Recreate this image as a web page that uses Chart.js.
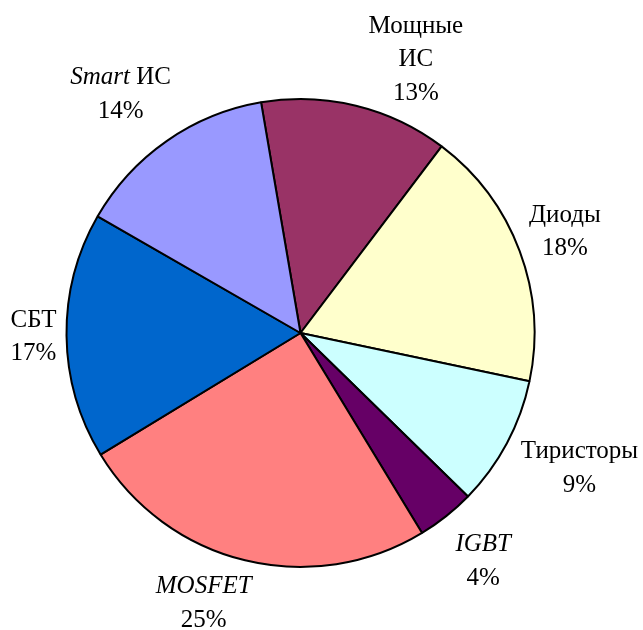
<!DOCTYPE html>
<html><head><meta charset="utf-8">
<script src="https://cdn.jsdelivr.net/npm/chart.js@4.4.1/dist/chart.umd.min.js"></script>
<style>html,body{margin:0;padding:0;background:#fff}#wrap{width:643px;height:630px;position:relative}</style>
</head><body><div id="wrap"><canvas id="c"></canvas></div>
<script>
const categories = ['Мощные ИС','Диоды','Тиристоры','IGBT','MOSFET','СБТ','Smart ИС'];
const values = [13,18,9,4,25,17,14];
const labelLines = [['Мощные','ИС'],['Диоды'],['Тиристоры'],['IGBT'],['MOSFET'],['СБТ'],['Smart ИС']];
const italicWords = ['Smart','IGBT','MOSFET'];
const colors = ['#993366','#FFFFCC','#CCFFFF','#660066','#FF8080','#0066CC','#9999FF'];
const labelNudge = [[24,14],[0,8],[5,-11],[3,4],[-5,0],[0,0],[10,-5]];

const FONT = '"Liberation Serif", "Times New Roman", serif';
const FS = 25, LH = 33.5;

function segs(line){
  const out=[]; const parts=line.split(' ');
  parts.forEach((p,i)=>{ out.push({t:(i>0?' ':'')+p, it: italicWords.includes(p)}); });
  return out;
}
const labelPlugin = {
  id:'outLabels',
  afterDatasetsDraw(chart){
    const ctx=chart.ctx; const meta=chart.getDatasetMeta(0);
    const total=values.reduce((a,b)=>a+b,0);
    meta.data.forEach((arc,i)=>{
      const p=arc.getProps(['x','y','startAngle','endAngle','outerRadius'],true);
      const mid=(p.startAngle+p.endAngle)/2;
      const cx0=Math.cos(mid), sy0=Math.sin(mid);
      const r=p.outerRadius+10;
      const ax=p.x+r*cx0, ay=p.y+r*sy0;
      const lines=labelLines[i].map(l=>segs(l));
      lines.push([{t:Math.round(values[i]/total*100)+'%',it:false}]);
      const widths=lines.map(L=>L.reduce((w,s)=>{ctx.font=(s.it?'italic ':'')+FS+'px '+FONT;return w+ctx.measureText(s.t).width;},0));
      const w=Math.max(...widths), h=lines.length*LH;
      const kx=Math.max(-1,Math.min(1,cx0*3)), ky=Math.max(-1,Math.min(1,sy0*2));
      const bx=ax+kx*w/2+labelNudge[i][0], by=ay+ky*h/2+labelNudge[i][1];
      ctx.save(); ctx.fillStyle='#000'; ctx.textBaseline='middle'; ctx.textAlign='left';
      lines.forEach((L,j)=>{
        let x=bx-widths[j]/2; const y=by-h/2+LH*(j+0.5);
        L.forEach(s=>{ctx.font=(s.it?'italic ':'')+FS+'px '+FONT; ctx.fillText(s.t,x,y); x+=ctx.measureText(s.t).width;});
      });
      ctx.restore();
    });
  }
};
new Chart(document.getElementById('c'),{
  type:'pie',
  data:{labels:categories,datasets:[{data:values,backgroundColor:colors,borderColor:'#000',borderWidth:2,hoverBorderWidth:2,hoverOffset:0}]},
  options:{
    responsive:true,maintainAspectRatio:false,animation:false,
    rotation:-9.7,
    layout:{padding:{left:65.5,right:107.5,top:98,bottom:62}},
    plugins:{legend:{display:false},tooltip:{enabled:false}},
    events:[]
  },
  plugins:[labelPlugin]
});
</script></body></html>
